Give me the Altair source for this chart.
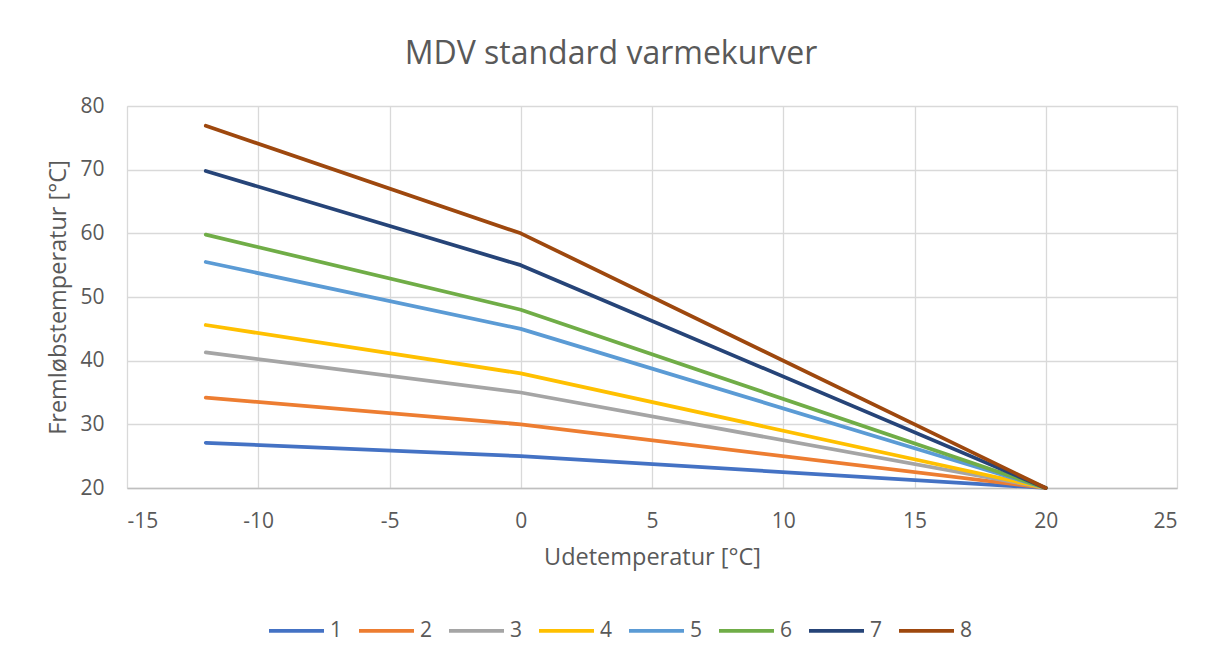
import altair as alt
import pandas as pd

x_points = [-12, 0, 20]
series_names = ["1", "2", "3", "4", "5", "6", "7", "8"]
curve_1 = [27.1, 25.0, 20.0]
curve_2 = [34.2, 30.0, 20.0]
curve_3 = [41.3, 35.0, 20.0]
curve_4 = [45.6, 38.0, 20.0]
curve_5 = [55.5, 45.0, 20.0]
curve_6 = [59.8, 48.0, 20.0]
curve_7 = [69.8, 55.0, 20.0]
curve_8 = [76.9, 60.0, 20.0]
colors = ["#4472C4", "#ED7D31", "#A5A5A5", "#FFC000", "#5B9BD5", "#70AD47", "#264478", "#9E480E"]

curves = [curve_1, curve_2, curve_3, curve_4, curve_5, curve_6, curve_7, curve_8]
rows = []
for name, vals in zip(series_names, curves):
    for i, (x, y) in enumerate(zip(x_points, vals)):
        rows.append({"serie": name, "ude": x, "frem": y, "order": i})
df = pd.DataFrame(rows)

FONT = "Open Sans"
GREY = "#595959"

chart = alt.Chart(df).mark_line(strokeWidth=3.75, strokeCap="round", strokeJoin="round").encode(
    x=alt.X("ude:Q", scale=alt.Scale(domain=[-15, 25], nice=False),
            axis=alt.Axis(title="Udetemperatur [°C]", values=[-15, -10, -5, 0, 5, 10, 15, 20, 25],
                          labelExpr="toString(datum.value)",
                          grid=True, gridColor="#D9D9D9", gridWidth=1.3,
                          domainColor="#BFBFBF", domainWidth=1.5, ticks=False,
                          labelFontSize=21, labelColor=GREY, labelFont=FONT, labelPadding=22,
                          titleFontSize=23.5, titleColor=GREY, titleFont=FONT, titleFontWeight="normal",
                          titlePadding=14)),
    y=alt.Y("frem:Q", scale=alt.Scale(domain=[20, 80], nice=False),
            axis=alt.Axis(title="Fremløbstemperatur [°C]", values=[20, 30, 40, 50, 60, 70, 80],
                          grid=True, gridColor="#D9D9D9", gridWidth=1.3,
                          domain=False, ticks=False,
                          labelFontSize=21, labelColor=GREY, labelFont=FONT, labelPadding=23,
                          titleFontSize=23.5, titleColor=GREY, titleFont=FONT, titleFontWeight="normal",
                          titlePadding=9)),
    color=alt.Color("serie:N", scale=alt.Scale(domain=series_names, range=colors),
                    legend=alt.Legend(title=None, orient="none", direction="horizontal", columns=8,
                                      legendX=140, legendY=495,
                                      symbolType="stroke", symbolSize=3025, symbolStrokeWidth=3.75,
                                      labelFontSize=21, labelColor=GREY, labelFont=FONT,
                                      columnPadding=8, labelOffset=4)),
    order="order:Q",
).properties(
    width=1050, height=382,
    title=alt.Title("MDV standard varmekurver", fontSize=32, font=FONT, fontWeight="normal",
                    color=GREY, anchor="middle", offset=24, dx=-41),
    autosize=alt.AutoSizeParams(type="none"),
    padding={"left": 119, "top": 98, "right": 23, "bottom": 166},
).configure_view(stroke=None).configure(background="white")

chart.save("out.html", embed_options={"renderer": "svg", "actions": False})
